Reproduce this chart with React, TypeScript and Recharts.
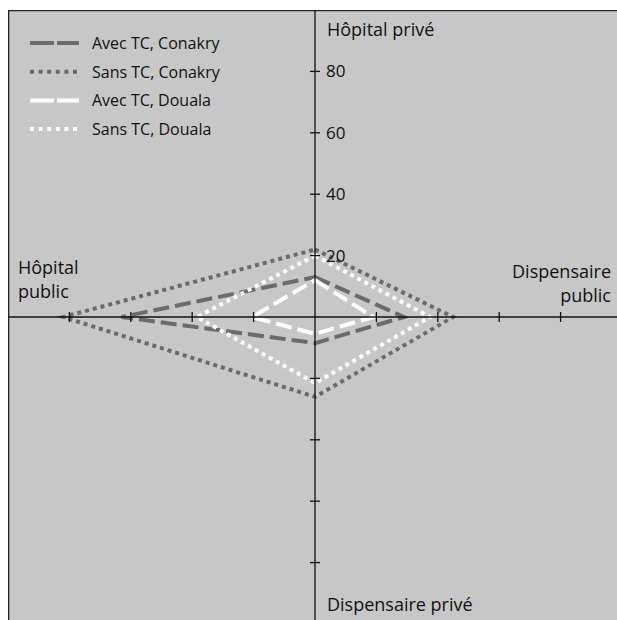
import React from "react";
import { RadarChart, Radar, PolarRadiusAxis, PolarAngleAxis, Legend } from "recharts";

const categories = ["Hôpital privé", "Dispensaire public", "Dispensaire privé", "Hôpital public"];
const avecConakry = [13, 29, 8.5, 63];
const sansConakry = [22, 45, 26, 82];
const avecDouala = [12, 19, 5.5, 20.5];
const sansDouala = [20, 37.5, 21.5, 38.5];
const seriesNames = ["Avec TC, Conakry", "Sans TC, Conakry", "Avec TC, Douala", "Sans TC, Douala"];
const radiusTicks = [0, 20, 40, 60, 80, 100];

const data = categories.map((c, i) => ({
  cat: c,
  a: avecConakry[i],
  b: sansConakry[i],
  c2: avecDouala[i],
  d: sansDouala[i],
}));

const W = 609;
const H = 610;
const CX = 307;
const CY = 307;
const R = 307;
const DARK = "#6b6b6b";
const WHITE = "#ffffff";
const BG = "#c7c7c7";
const FONT = "'Open Sans', 'Noto Sans', sans-serif";

const seriesStyles = [
  { key: "a", color: DARK, dash: "16 6", legendDash: "24 3" },
  { key: "b", color: DARK, dash: "4 4", legendDash: "4 4.6" },
  { key: "c2", color: WHITE, dash: "16 6", legendDash: "24 3" },
  { key: "d", color: WHITE, dash: "4 4", legendDash: "4 4.6" },
];

const axisAngles = [90, 0, -90, 180];

const makeTick = (angle: number, showLabel: boolean) => (props: any) => {
  const { x, y, payload } = props;
  const v = payload.value;
  if (v <= 0 || v >= 100) return <g />;
  const rad = (angle * Math.PI) / 180;
  const px = Math.sin(rad) * 5;
  const py = Math.cos(rad) * 5;
  return (
    <g>
      <line x1={x - px} y1={y - py} x2={x + px} y2={y + py} stroke="#111" strokeWidth={1.3} />
      {showLabel && (
        <text x={x + 11} y={y + 6} fontSize={17} fontFamily={FONT} fill="#111" textAnchor="start">
          {v}
        </text>
      )}
    </g>
  );
};

const AngleTick = (props: any) => {
  const { payload } = props;
  const v = payload.value;
  const common = { fontSize: 18, fontFamily: FONT, fill: "#111" };
  if (v === categories[0]) {
    return (
      <text x={CX + 12} y={CY - R + 26} textAnchor="start" {...common}>
        {v}
      </text>
    );
  }
  if (v === categories[1]) {
    return (
      <text x={W - 6} y={268} textAnchor="end" {...common}>
        <tspan x={W - 6} dy={0}>Dispensaire</tspan>
        <tspan x={W - 6} dy={24}>public</tspan>
      </text>
    );
  }
  if (v === categories[2]) {
    return (
      <text x={CX + 12} y={H - 9} textAnchor="start" {...common}>
        {v}
      </text>
    );
  }
  return (
    <text x={10} y={264} textAnchor="start" {...common}>
      <tspan x={10} dy={0}>Hôpital</tspan>
      <tspan x={10} dy={24}>public</tspan>
    </text>
  );
};

const LegendContent = () => (
  <svg width={220} height={120}>
    {seriesNames.map((n, i) => (
      <g key={n}>
        <line
          x1={0}
          x2={49}
          y1={14 + i * 28.7}
          y2={14 + i * 28.7}
          stroke={seriesStyles[i].color}
          strokeWidth={4}
          strokeDasharray={seriesStyles[i].legendDash}
        />
        <text x={62} y={20 + i * 28.7} fontSize={16} fontFamily={FONT} fill="#111">
          {n}
        </text>
      </g>
    ))}
  </svg>
);

export default function App() {
  return (
    <div
      style={{
        position: "absolute",
        left: 8,
        top: 10,
        width: W,
        height: H,
        background: BG,
        boxShadow: "inset 1.3px 1.3px 0 #222",
        overflow: "hidden",
      }}
    >
      <RadarChart
        width={W}
        height={H}
        data={data}
        cx={CX}
        cy={CY}
        outerRadius={R}
        margin={{ top: 0, right: 0, bottom: 0, left: 0 }}
        startAngle={90}
        endAngle={-270}
      >
        <PolarAngleAxis dataKey="cat" axisLine={false} tickLine={false} tick={AngleTick} />
        {axisAngles.map((a, i) => (
          <PolarRadiusAxis
            key={"r" + i}
            radiusAxisId={i}
            angle={a}
            domain={[0, 100]}
            type="number"
            tickCount={radiusTicks.length}
            axisLine={{ stroke: "#111", strokeWidth: 1.3 }}
            tick={makeTick(a, i === 0)}
          />
        ))}
        {seriesStyles.map((s, i) => (
          <Radar
            key={s.key}
            name={seriesNames[i]}
            dataKey={s.key}
            radiusAxisId={i}
            stroke={s.color}
            strokeWidth={4}
            strokeDasharray={s.dash}
            fill="none"
            fillOpacity={0}
            dot={false}
            isAnimationActive={false}
          />
        ))}
        <Legend
          layout="vertical"
          align="center"
          verticalAlign="middle"
          content={LegendContent}
          wrapperStyle={{ left: 22, top: 19, width: 220, height: 120 }}
        />
      </RadarChart>
    </div>
  );
}
